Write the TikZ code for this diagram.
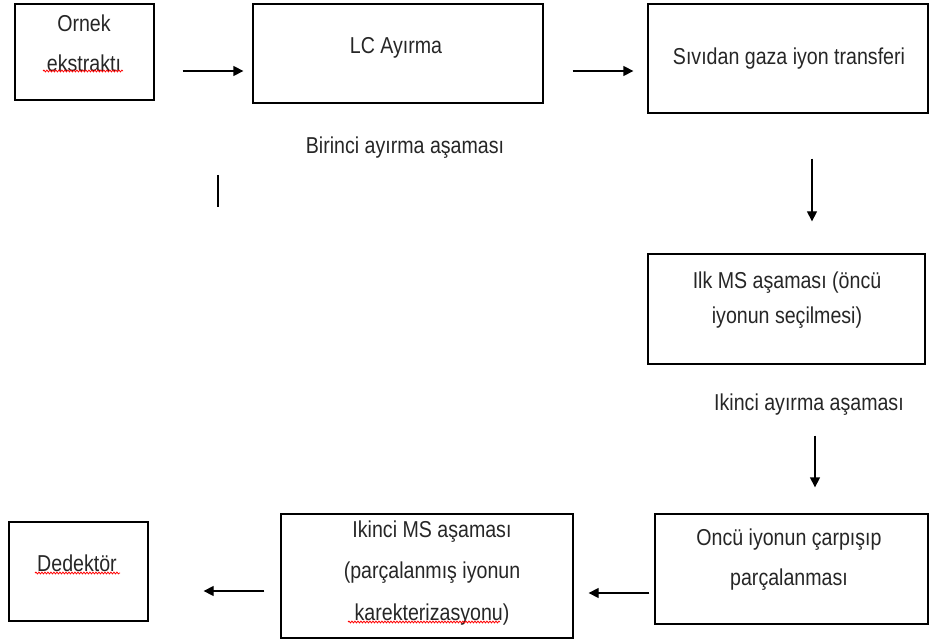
\documentclass[tikz,border=0pt]{standalone}
\usepackage{fontspec}
\setmainfont{Liberation Sans}
\usetikzlibrary{arrows.meta,decorations.pathmorphing}
\newcommand{\tallt}[1]{\scalebox{0.98}[1.15]{#1}}
\begin{document}
\begin{tikzpicture}[x=1pt,y=-1pt,
  box/.style={draw=black,line width=1.3pt,rectangle,inner sep=0pt},
  lbl/.style={inner sep=0pt,text=black!85,font=\fontsize{20}{24}\selectfont},
  arr/.style={line width=1.3pt,-{Triangle[length=10pt,width=10pt]}},
  spell/.style={red,line width=0.8pt,decorate,decoration={snake,amplitude=0.9pt,segment length=3pt}}]
\useasboundingbox (0,0) rectangle (929,644);
% boxes
\node[box,minimum width=139pt,minimum height=96pt] (ornek) at (84.5,52) {};
\node[box,minimum width=290pt,minimum height=99pt] (lc) at (398,53.5) {};
\node[box,minimum width=280pt,minimum height=109pt] (sivi) at (788,58.5) {};
\node[box,minimum width=277pt,minimum height=110pt] (ilk) at (786.5,309) {};
\node[box,minimum width=273pt,minimum height=110pt] (oncu) at (791.5,569) {};
\node[box,minimum width=292pt,minimum height=124pt] (ikinci) at (427,576) {};
\node[box,minimum width=139pt,minimum height=99pt] (dedektor) at (78.5,571.5) {};
% texts
\node[lbl] (t1a) at (84,23) {\tallt{Ornek}};
\node[lbl] (t1b) at (84,63) {\tallt{ekstraktı}};
\node[lbl] (t2) at (396,48) {\tallt{LC Ayırma}};
\node[lbl] (t3) at (789,59) {\tallt{Sıvıdan gaza iyon transferi}};
\node[lbl] (t4) at (405,148) {\tallt{Birinci ayırma aşaması}};
\node[lbl] (t5a) at (787,283) {\tallt{Ilk MS aşaması (öncü}};
\node[lbl] (t5b) at (787,318) {\tallt{iyonun seçilmesi)}};
\node[lbl] (t6) at (809,405) {\tallt{Ikinci ayırma aşaması}};
\node[lbl] (t7a) at (789,540) {\tallt{Oncü iyonun çarpışıp}};
\node[lbl] (t7b) at (789,580) {\tallt{parçalanması}};
\node[lbl] (t8a) at (432,532) {\tallt{Ikinci MS aşaması}};
\node[lbl] (t8b) at (432,573) {\tallt{(parçalanmış iyonun}};
\node[lbl] (t8c) at (432,615) {\tallt{karekterizasyonu)}};
\node[lbl] (t9) at (77,563) {\tallt{Dedektör}};
% spell-check underlines
\draw[spell] (43,71) -- (123,71);
\draw[spell] (35,573) -- (120,573);
\draw[spell] (348,622) -- (500,622);
% stray bar
\draw[line width=1.3pt] (218,175) -- (218,207);
% arrows
\draw[arr] ([xshift=28pt,yshift=-19pt]ornek.east) -- ([xshift=-9pt,yshift=-17.5pt]lc.west);
\draw[arr] ([xshift=29pt,yshift=-17.5pt]lc.east) -- ([xshift=-14pt,yshift=-12.5pt]sivi.west);
\draw[arr] ([xshift=24pt,yshift=-45pt]sivi.south) -- ([xshift=25.5pt,yshift=32pt]ilk.north);
\draw[arr] ([xshift=28.5pt,yshift=-71pt]ilk.south) -- ([xshift=23.5pt,yshift=26pt]oncu.north);
\draw[arr] ([xshift=-5pt,yshift=-24pt]oncu.west) -- ([xshift=15pt,yshift=-17pt]ikinci.east);
\draw[arr] ([xshift=-16pt,yshift=-15pt]ikinci.west) -- ([xshift=55pt,yshift=-19.5pt]dedektor.east);
\end{tikzpicture}
\end{document}
